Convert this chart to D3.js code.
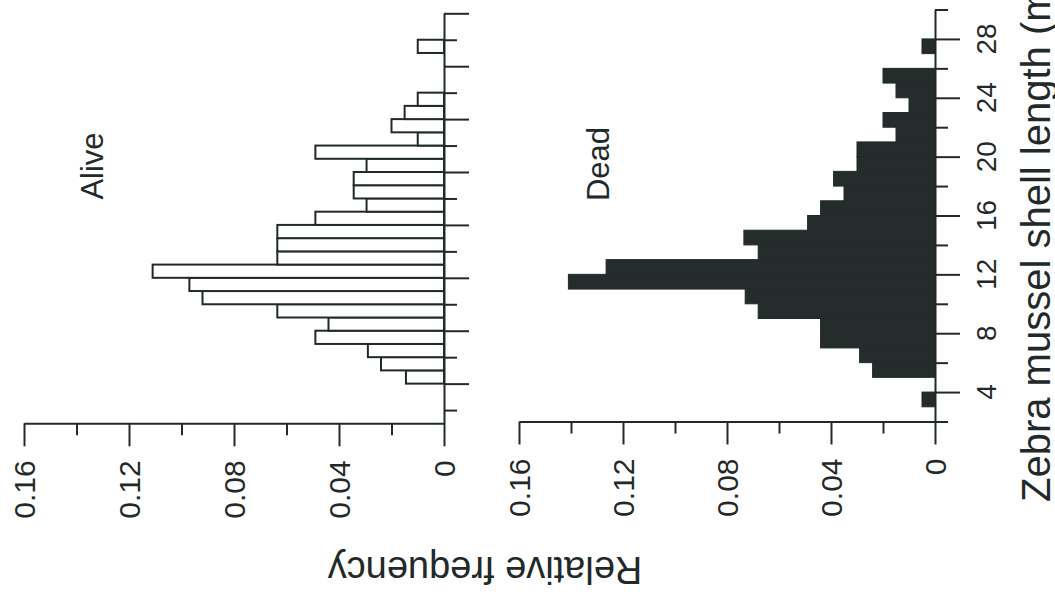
<!DOCTYPE html>
<html>
<head>
<meta charset="utf-8">
<script src="https://cdn.jsdelivr.net/npm/d3@7/dist/d3.min.js"></script>
<style>
  html, body { margin: 0; padding: 0; background: #ffffff; }
  svg { display: block; }
  text { font-family: "Liberation Sans", Arial, Helvetica, sans-serif; fill: #222a29; }
</style>
</head>
<body>
<svg id="chart" width="1055" height="598"></svg>
<script>
// ---- data ----
// shell length bins (lower edge, mm), 1-mm wide
const aliveLength = [4,5,6,7,8,9,10,11,12,13,14,15,16,17,18,19,20,21,22,23,24,25,29];
const aliveFreq   = [0.0145,0.024,0.029,0.049,0.044,0.0635,0.092,0.097,0.111,0.0635,0.0635,0.0635,0.049,0.0295,0.0344,0.0344,0.0295,0.049,0.01,0.02,0.015,0.01,0.01];

const deadLength  = [3,5,6,7,8,9,10,11,12,13,14,15,16,17,18,19,20,21,22,23,24,25,27];
const deadFreq    = [0.005,0.024,0.029,0.044,0.044,0.068,0.073,0.141,0.1265,0.068,0.0735,0.049,0.044,0.035,0.039,0.03,0.03,0.015,0.02,0.01,0.015,0.02,0.005];

const freqMajor   = [0, 0.04, 0.08, 0.12, 0.16];
const freqLabels  = ["0", "0.04", "0.08", "0.12", "0.16"];
const freqMinor   = [0.02, 0.06, 0.10, 0.14];
const lengthMajorAlive = [4,8,12,16,20,24,28,32];
const lengthMinorAlive = [2,6,10,14,18,22,26,30];
const lengthMajorDead  = [4,8,12,16,20,24,28];
const lengthLabelsDead = ["4","8","12","16","20","24","28"];
const lengthMinorDead  = [2,6,10,14,18,22,26,30];

const panelNames = ["Alive", "Dead"];
const xTitle = "Relative frequency";
const yTitle = "Zebra mussel shell length (mm)";

// ---- drawing ----
const svg = d3.select("#chart");
const ink = "#222a29";

const panels = [
  { name: panelNames[0], lengths: aliveLength, freqs: aliveFreq,
    x: d3.scaleLinear().domain([0, 0.16]).range([444, 24]),
    y: d3.scaleLinear().domain([1, 32]).range([423.3, 13.3]),
    major: lengthMajorAlive, minor: lengthMinorAlive, labels: null,
    fill: "#ffffff", labelX: 103, labelY: 166 },
  { name: panelNames[1], lengths: deadLength, freqs: deadFreq,
    x: d3.scaleLinear().domain([0, 0.16]).range([935, 519]),
    y: d3.scaleLinear().domain([2, 30]).range([421.5, 9.5]),
    major: lengthMajorDead, minor: lengthMinorDead, labels: lengthLabelsDead,
    fill: "#252d2c", labelX: 609, labelY: 164 }
];

panels.forEach(p => {
  const g = svg.append("g");
  const x0 = p.x(0);
  const yBase = p.y.range()[0];

  // bars
  g.selectAll("rect.bar")
    .data(p.lengths.map((l, i) => ({ l, f: p.freqs[i] })))
    .join("rect")
    .attr("class", "bar")
    .attr("x", d => p.x(d.f))
    .attr("width", d => x0 - p.x(d.f))
    .attr("y", d => p.y(d.l + 1))
    .attr("height", d => p.y(d.l) - p.y(d.l + 1))
    .attr("fill", p.fill)
    .attr("stroke", ink)
    .attr("stroke-width", p.fill === "#ffffff" ? 2 : 1);

  // shell length axis (vertical, ticks to the right)
  const ax1 = g.append("g").attr("transform", `translate(${x0},0)`)
    .call(d3.axisRight(p.y).tickValues(p.major).tickSize(25).tickSizeOuter(0).tickFormat(""));
  const ax2 = g.append("g").attr("transform", `translate(${x0},0)`)
    .call(d3.axisRight(p.y).tickValues(p.minor).tickSize(13).tickSizeOuter(0).tickFormat(""));
  ax2.select(".domain").remove();

  // frequency axis (horizontal, ticks downward)
  const ax3 = g.append("g").attr("transform", `translate(0,${yBase})`)
    .call(d3.axisBottom(p.x).tickValues(freqMajor).tickSize(23).tickSizeOuter(0).tickFormat(""));
  const ax4 = g.append("g").attr("transform", `translate(0,${yBase})`)
    .call(d3.axisBottom(p.x).tickValues(freqMinor).tickSize(12).tickSizeOuter(0).tickFormat(""));
  ax4.select(".domain").remove();

  [ax1, ax2, ax3, ax4].forEach(a => {
    a.selectAll("path, line").attr("stroke", ink).attr("stroke-width", 2);
  });

  // frequency tick labels (rotated)
  g.selectAll("text.fl")
    .data(freqMajor)
    .join("text")
    .attr("class", "fl")
    .attr("transform", d => `translate(${p.x(d) + 11},${yBase + 37}) rotate(-90)`)
    .attr("text-anchor", "end")
    .attr("font-size", 30)
    .text((d, i) => freqLabels[i]);

  // length tick labels (Dead panel only)
  if (p.labels) {
    g.selectAll("text.ll")
      .data(p.major)
      .join("text")
      .attr("class", "ll")
      .attr("transform", d => `translate(${x0 + 61},${p.y(d)}) rotate(-90)`)
      .attr("text-anchor", "middle")
      .attr("font-size", 28)
      .text((d, i) => p.labels[i]);
  }

  // panel label
  g.append("text")
    .attr("transform", `translate(${p.labelX},${p.labelY}) rotate(-90)`)
    .attr("text-anchor", "middle")
    .attr("font-size", 31)
    .text(p.name);
});

// axis titles
svg.append("text")
  .attr("transform", "translate(485,557) rotate(180)")
  .attr("text-anchor", "middle")
  .attr("font-size", 38)
  .text(xTitle);

svg.append("text")
  .attr("transform", "translate(1050,502) rotate(-90)")
  .attr("text-anchor", "start")
  .attr("font-size", 40)
  .text(yTitle);
</script>
</body>
</html>
